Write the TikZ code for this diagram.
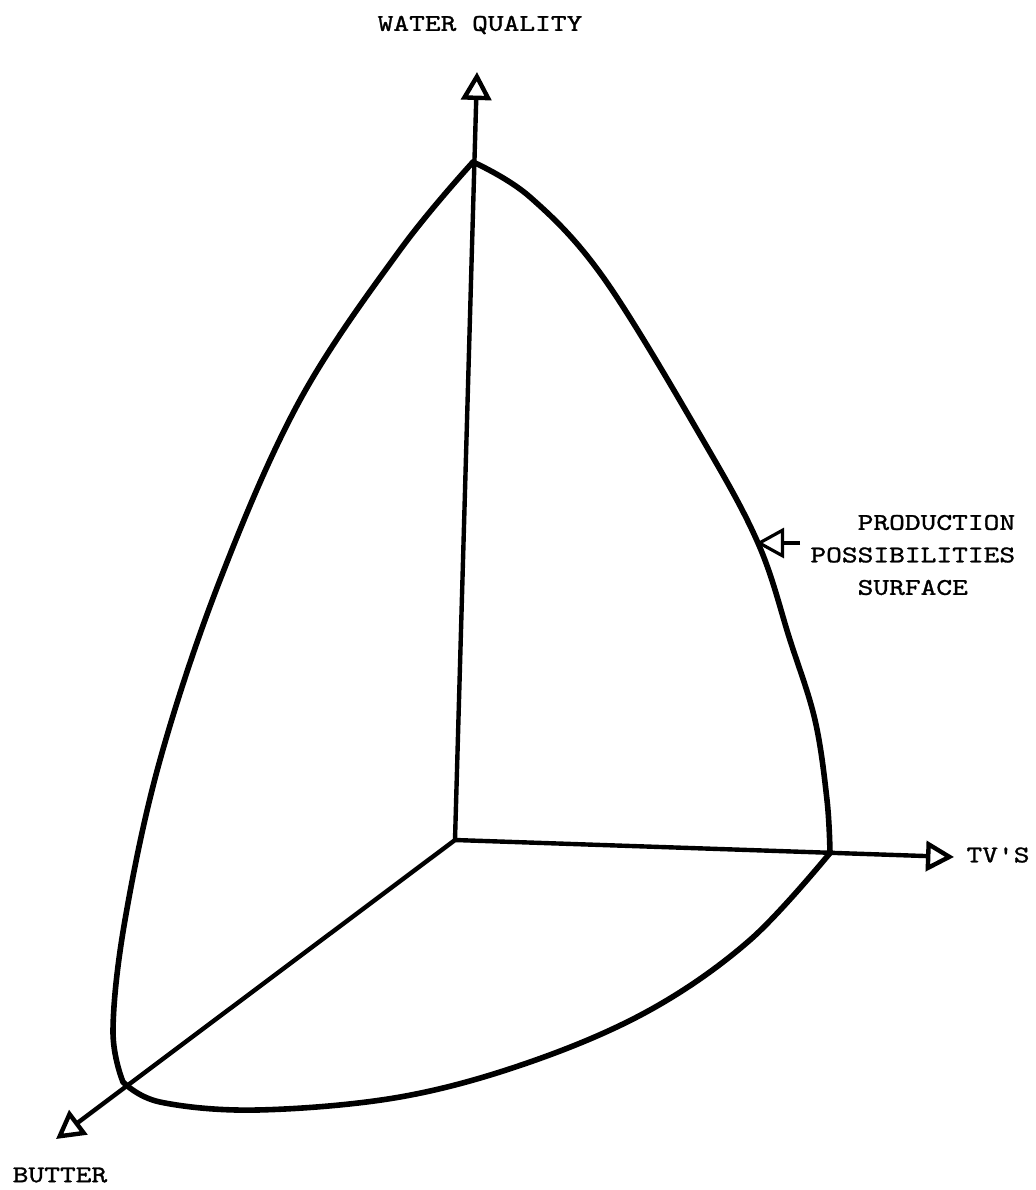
\documentclass[tikz,border=0pt]{standalone}
\usepackage{fontspec}
\setmonofont{lmmono10-regular.otf}[FakeStretch=1.25, FakeBold=1.2]
\usetikzlibrary{arrows.meta}

\begin{document}
\begin{tikzpicture}[
    x=0.5pt, y=-0.5pt,
    >={Triangle[open,length=14pt,width=15pt]},
    font=\ttfamily\fontsize{12}{16.25}\selectfont,
    axis/.style={line width=2.2pt, ->},
    frontier/.style={line width=2.8pt, line join=round, line cap=round}
]
    \useasboundingbox (0,0) rectangle (1036,1190);

    % Axes
    \coordinate (O) at (455,840);
    \coordinate (wq) at (477,72);
    \coordinate (tv) at (954,857);
    \coordinate (bu) at (56,1139);
    \draw[axis] (O) -- (wq);
    \draw[axis] (O) -- (tv);
    \draw[axis] (O) -- (bu);

    % Axis labels
    \node (wqlabel) at (480,25) {WATER QUALITY};
    \node (tvlabel) at (998,855) {TV\symbol{39}S};
    \node (bulabel) at (60,1175) {BUTTER};

    % Production possibilities surface
    \coordinate (top) at (473,162);
    \coordinate (left) at (123,1082);
    \coordinate (right) at (830,853);
    \draw[frontier] plot[smooth, tension=0.6] coordinates {
        (top) (400,250) (300,400) (220,580) (160,760) (125,920)
        (113,1030) (left)};
    \draw[frontier] plot[smooth, tension=0.6] coordinates {
        (left) (160,1102) (257,1110) (400,1097) (530,1062)
        (650,1010) (750,940) (right)};
    \draw[frontier] plot[smooth, tension=0.6] coordinates {
        (top) (530,197) (603,277) (700,435) (758,543) (790,640)
        (815,720) (827,800) (right)};

    % Label for the surface
    \coordinate (pps) at (756,543);
    \node[anchor=west, align=left, inner sep=5pt] (ppslabel) at (800,555)
        {\hphantom{PPP}PRODUCTION\\POSSIBILITIES\\\hphantom{PPP}SURFACE};
    \draw[line width=1.6pt, ->] (ppslabel.west |- pps) -- (pps);

\end{tikzpicture}
\end{document}
